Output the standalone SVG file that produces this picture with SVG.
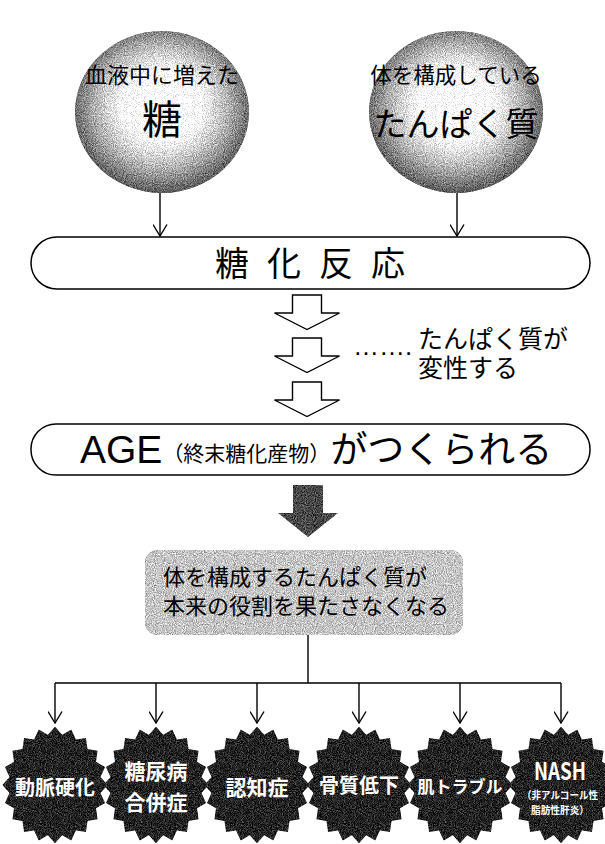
<svg xmlns="http://www.w3.org/2000/svg" xmlns:xlink="http://www.w3.org/1999/xlink" width="605" height="844" viewBox="0 0 605 844">
<style>
.t{font-family:"Liberation Sans","Noto Sans CJK JP",sans-serif;fill:#000}
.w{font-family:"Noto Sans CJK JP","Liberation Sans",sans-serif;fill:#fff;font-weight:700;text-anchor:middle}
.box{fill:#fff;stroke:#000;stroke-width:1.5}
.ln{fill:none;stroke:#000;stroke-width:1.4}
.hollow{fill:#fff;stroke:#000;stroke-width:1.4}
</style>
<defs>
<radialGradient id="sph" cx="0.5" cy="0.47" r="0.53" fx="0.5" fy="0.45">
<stop offset="0" stop-color="#ffffff"/>
<stop offset="0.42" stop-color="#f6f6f6"/>
<stop offset="0.74" stop-color="#a0a0a0"/>
<stop offset="1" stop-color="#4a4a4a"/>
</radialGradient>
<filter id="grain" x="0" y="0" width="100%" height="100%" color-interpolation-filters="sRGB">
<feTurbulence type="fractalNoise" baseFrequency="1.1" numOctaves="1" seed="4" result="t"/>
<feColorMatrix in="t" type="matrix" values="1 0 0 0 0 1 0 0 0 0 1 0 0 0 0 0 0 0 0 1" result="g"/>
<feComposite in="SourceGraphic" in2="g" operator="arithmetic" k1="0" k2="1" k3="1" k4="-0.45" result="m"/>
<feComposite in="m" in2="SourceGraphic" operator="in"/>
</filter>
<marker id="vh" viewBox="0 0 13 15" refX="12" refY="7.5" markerWidth="13" markerHeight="15" markerUnits="userSpaceOnUse" orient="auto">
<path d="M0.5 0.5 L12 7.5 L0.5 14.5" fill="none" stroke="#000" stroke-width="1.4"/>
</marker>
<path id="harrow" d="M292.5 295 H321.5 V313 H339.5 L307 329.5 L274.5 313 H292.5 Z"/>
<polygon id="burst" points="0,-56 7.66,-48.4 17.3,-53.26 22.25,-43.66 32.92,-45.3 34.65,-34.65 45.3,-32.92 43.66,-22.25 53.26,-17.3 48.4,-7.66 56,0 48.4,7.66 53.26,17.3 43.66,22.25 45.3,32.92 34.65,34.65 32.92,45.3 22.25,43.66 17.3,53.26 7.66,48.4 0,56 -7.66,48.4 -17.3,53.26 -22.25,43.66 -32.92,45.3 -34.65,34.65 -45.3,32.92 -43.66,22.25 -53.26,17.3 -48.4,7.66 -56,0 -48.4,-7.66 -53.26,-17.3 -43.66,-22.25 -45.3,-32.92 -34.65,-34.65 -32.92,-45.3 -22.25,-43.66 -17.3,-53.26 -7.66,-48.4"/>
</defs>
<rect width="605" height="844" fill="#fff"/>

<g id="sugar">
<ellipse cx="162" cy="112" rx="87" ry="81" fill="url(#sph)" filter="url(#grain)"/>
<text class="t" x="162" y="83" font-size="22" text-anchor="middle">血液中に増えた</text>
<text class="t" x="162" y="134" font-size="40" text-anchor="middle">糖</text>
</g>
<g id="protein">
<ellipse cx="456" cy="112" rx="87" ry="81" fill="url(#sph)" filter="url(#grain)"/>
<text class="t" x="456" y="83" font-size="21.5" text-anchor="middle">体を構成している</text>
<text class="t" x="456" y="136" font-size="33" text-anchor="middle">たんぱく質</text>
</g>

<g id="glycation">
<rect class="box" x="31" y="237" width="559" height="52" rx="26"/>
<text class="t" x="215" y="276" font-size="34" letter-spacing="18">糖化反応</text>
</g>

<g id="denature">
<text class="t" x="353" y="355" font-size="26">…….</text>
<text class="t" x="418" y="348" font-size="25">たんぱく質が</text>
<text class="t" x="418" y="377" font-size="25">変性する</text>
</g>

<g id="age">
<rect class="box" x="31" y="424" width="559" height="51" rx="25"/>
<text class="t" x="80" y="463"><tspan font-size="39">AGE</tspan><tspan font-size="21" dy="-2">（終末糖化産物）</tspan><tspan font-size="37" dy="2">がつくられる</tspan></text>
</g>

<g id="role">
<rect x="145" y="550" width="318" height="85" rx="13" fill="#b8b8b8" filter="url(#grain)"/>
<text class="t" x="163" y="585" font-size="22">体を構成するたんぱく質が</text>
<text class="t" x="163" y="614" font-size="22">本来の役割を果たさなくなる</text>
</g>

<g id="connectors">
<line class="ln" x1="160" y1="193" x2="160" y2="236" marker-end="url(#vh)"/>
<line class="ln" x1="457" y1="193" x2="457" y2="236" marker-end="url(#vh)"/>
<use href="#harrow" class="hollow"/>
<use href="#harrow" class="hollow" transform="translate(0,43)"/>
<use href="#harrow" class="hollow" transform="translate(0,87)"/>
<path d="M293 485 H323 V513 H338 L308 537 L278 513 H293 Z" fill="#3a3a3a" filter="url(#grain)"/>
<path class="ln" d="M308 635 V683 M55 683 H561"/>
<line class="ln" x1="55" y1="683" x2="55" y2="723" marker-end="url(#vh)"/>
<line class="ln" x1="156" y1="683" x2="156" y2="723" marker-end="url(#vh)"/>
<line class="ln" x1="257" y1="683" x2="257" y2="723" marker-end="url(#vh)"/>
<line class="ln" x1="359" y1="683" x2="359" y2="723" marker-end="url(#vh)"/>
<line class="ln" x1="460" y1="683" x2="460" y2="723" marker-end="url(#vh)"/>
<line class="ln" x1="561" y1="683" x2="561" y2="723" marker-end="url(#vh)"/>
</g>

<g id="arteriosclerosis">
<use href="#burst" fill="#151515" filter="url(#grain)" transform="translate(55,785) scale(0.94,1.04)"/>
<text class="w" x="55" y="795" font-size="20">動脈硬化</text>
</g>
<g id="diabetes">
<use href="#burst" fill="#151515" filter="url(#grain)" transform="translate(156,785) scale(0.94,1.04)"/>
<text class="w" x="156" y="779" font-size="21">糖尿病</text>
<text class="w" x="156" y="810" font-size="21">合併症</text>
</g>
<g id="dementia">
<use href="#burst" fill="#151515" filter="url(#grain)" transform="translate(257,785) scale(0.94,1.04)"/>
<text class="w" x="257" y="795" font-size="21">認知症</text>
</g>
<g id="bone">
<use href="#burst" fill="#151515" filter="url(#grain)" transform="translate(359,785) scale(0.94,1.04)"/>
<text class="w" x="359" y="793" font-size="20">骨質低下</text>
</g>
<g id="skin">
<use href="#burst" fill="#151515" filter="url(#grain)" transform="translate(460,785) scale(0.94,1.04)"/>
<text class="w" x="460" y="793" font-size="17">肌トラブル</text>
</g>
<g id="nash">
<use href="#burst" fill="#151515" filter="url(#grain)" transform="translate(561,785) scale(0.94,1.04)"/>
<text class="w" x="560" y="780" font-size="24" font-family="Liberation Sans,sans-serif" textLength="52" lengthAdjust="spacingAndGlyphs">NASH</text>
<text class="w" x="560" y="799" font-size="10.5" textLength="76" lengthAdjust="spacingAndGlyphs">（非アルコール性</text>
<text class="w" x="560" y="814" font-size="10.5" textLength="58" lengthAdjust="spacingAndGlyphs">脂肪性肝炎）</text>
</g>
</svg>
